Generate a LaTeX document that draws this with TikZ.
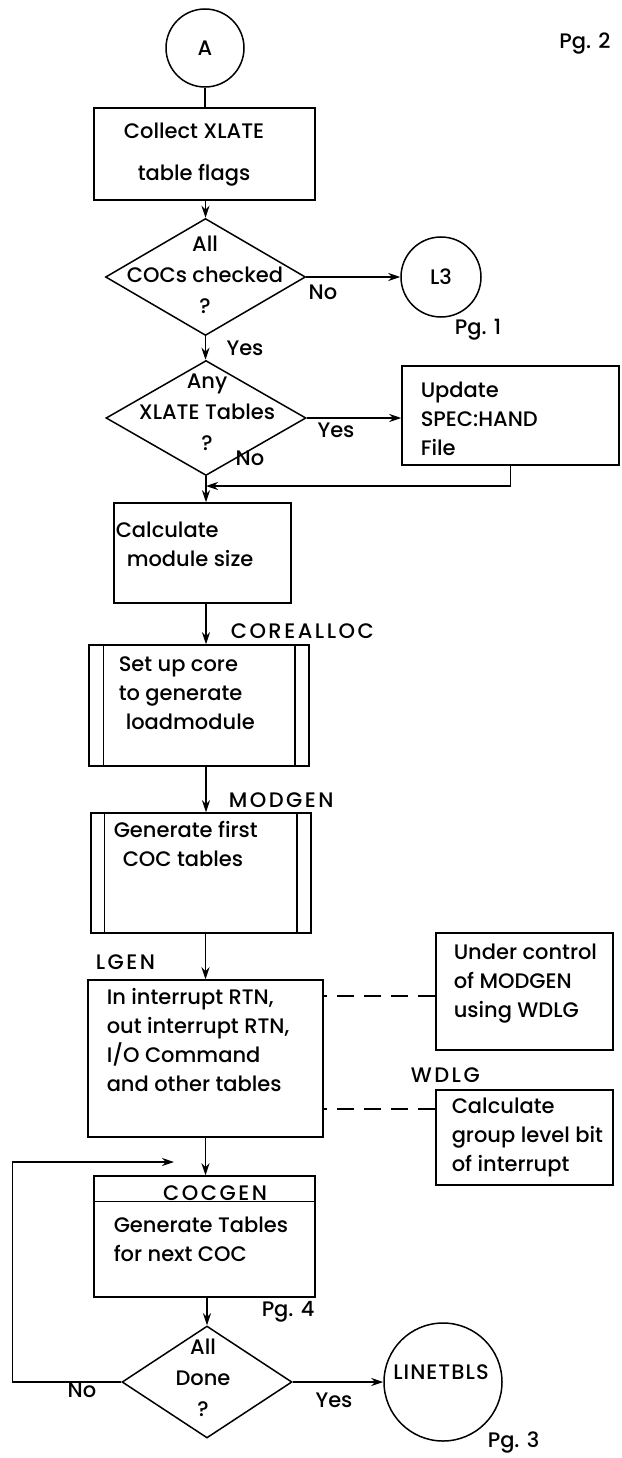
\documentclass[tikz,border=0pt]{standalone}
\usepackage{fontspec}
\setmainfont{Poppins}[UprightFont=* Medium]
\usetikzlibrary{shapes.geometric,arrows.meta}

\begin{document}
\begin{tikzpicture}[x=1pt,y=-1pt,line width=1.5pt,
  every node/.style={font=\fontsize{21}{29}\selectfont},
  box/.style={draw,rectangle,inner sep=0pt},
  dec/.style={draw,diamond,inner sep=0pt},
  conn/.style={-{Stealth[length=12pt,width=8pt]}},
  ctrl/.style={dash pattern=on 17pt off 10pt},
  txt/.style={inner sep=0pt,align=left,anchor=north west},
  ctxt/.style={inner sep=0pt,align=center,font=\fontsize{21}{31}\selectfont},
  caps/.style={inner sep=0pt,font=\fontsize{21}{29}\selectfont\addfontfeature{LetterSpace=12}}]

\useasboundingbox (0,0) rectangle (621,1458);

% top of page
\node[draw,circle,minimum size=78pt,inner sep=0pt] (a) at (205,48) {A};
\node (pg2) at (585,44) {Pg. 2};

\node[box,minimum width=221pt,minimum height=92pt] (collect) at (204.5,154) {};
\node[ctxt,font=\fontsize{21}{42}\selectfont] (collecttxt) at (194,155) {Collect XLATE\\table flags};

% all COCs checked ?
\node[dec,minimum width=200pt,minimum height=117pt] (d1) at (205.5,277) {};
\node[ctxt] (d1txt) at (205,275) {All\\COCs checked\\?};
\node[draw,circle,minimum size=80pt,inner sep=0pt] (l3) at (441,277) {L3};
\node (pg1) at (478,330) {Pg. 1};
\node (no1) at (323,292) {No};
\node (yes1) at (245,348) {Yes};

% any XLATE tables ?
\node[dec,minimum width=200pt,minimum height=115pt] (d2) at (206,418) {};
\node[ctxt] (d2txt) at (207,412) {Any\\XLATE Tables\\?};
\node (yes2) at (336,430) {Yes};
\node (no2) at (250,458) {No};
\node[box,minimum width=217pt,minimum height=99pt] (update) at (510.5,415.5) {};
\node[txt] (updatetxt) at (420,381) {Update\\SPEC:HAND\\File};
\coordinate (merge) at (206,486);

\node[box,minimum width=177pt,minimum height=100pt] (calc) at (202.5,553) {};
\node[txt] (calctxt) at (115,521) {Calculate\\\hspace*{11pt}module size};

% COREALLOC
\node[caps,anchor=west] (corealloc) at (230,631) {COREALLOC};
\node[box,minimum width=220pt,minimum height=121pt] (setup) at (199,705.5) {};
\draw ([xshift=15pt]setup.north west) -- ([xshift=15pt]setup.south west);
\draw ([xshift=-15pt]setup.north east) -- ([xshift=-15pt]setup.south east);
\node[txt] (setuptxt) at (118,656) {Set up core\\to generate\\\hspace*{7pt}loadmodule};

% MODGEN
\node[caps,anchor=west] (modgen) at (228,800) {MODGEN};
\node[box,minimum width=220pt,minimum height=120pt] (generate) at (201,873) {};
\draw ([xshift=14pt]generate.north west) -- ([xshift=14pt]generate.south west);
\draw ([xshift=-15pt]generate.north east) -- ([xshift=-15pt]generate.south east);
\node[txt] (generatetxt) at (113,821) {Generate first\\\hspace*{9pt}COC tables};

% LGEN
\node[caps,anchor=west] (lgenlbl) at (95,962) {LGEN};
\node[box,minimum width=235pt,minimum height=157pt] (lgen) at (205.5,1058.5) {};
\node[txt] (lgentxt) at (106,988) {In interrupt RTN,\\out interrupt RTN,\\I/O Command\\and other tables};

\node[box,minimum width=177pt,minimum height=117pt] (ctrlbox) at (524.5,991.5) {};
\node[txt] (ctrltxt) at (453,943) {Under control\\of MODGEN\\using WDLG};
\node[caps,anchor=west] (wdlg) at (410,1075) {WDLG};
\node[box,minimum width=177pt,minimum height=95pt] (grpbox) at (524.5,1137.5) {};
\node[txt] (grptxt) at (451,1097) {Calculate\\group level bit\\of interrupt};

\draw[ctrl] ([yshift=-4.5pt]ctrlbox.west) -- ([yshift=-4.5pt]ctrlbox.west -| lgen.east);
\draw[ctrl] ([yshift=28.5pt]grpbox.west) -- ([yshift=28.5pt]grpbox.west -| lgen.east);

% COCGEN
\node[box,minimum width=221pt,minimum height=121pt] (cocgen) at (204.5,1236.5) {};
\draw ([yshift=-26pt]cocgen.north west) -- ([yshift=-26pt]cocgen.north east);
\node[caps,anchor=base] (cocgenlbl) at (215,1200) {COCGEN};
\node[txt] (cocgentxt) at (113,1216) {Generate Tables\\for next COC};
\node[anchor=west,inner sep=0pt] (pg4) at (261,1312) {Pg. 4};

% all done ?
\node[dec,minimum width=170pt,minimum height=112pt] (d3) at (207,1382) {};
\node[ctxt] (d3txt) at (203,1378) {All\\Done\\?};
\node (no3) at (82,1390) {No};
\node (yes3) at (334,1400) {Yes};
\node[draw,circle,minimum size=118pt,inner sep=0pt] (linetbls) at (443,1382) {};
\node[caps,font=\fontsize{21}{29}\selectfont\addfontfeature{LetterSpace=5}] (linetxt) at (441,1372) {LINETBLS};
\node[anchor=west,inner sep=0pt] (pg3) at (487,1443) {Pg. 3};
\coordinate (loopend) at (174,1162);

% connectors
\draw (a.south) -- (a.south |- collect.north);
\draw[conn] (collect.south -| d1.north) -- (d1.north);
\draw[conn] (d1.east) -- (l3.west);
\draw[conn] (d1.south) -- (d1.south |- d2.north);
\draw[conn] (d2.east) -- (update.west |- d2.east);
\draw[conn] (update.south) |- (merge);
\draw[conn] (d2.south) -- (d2.south |- calc.north);
\draw[conn] (calc.south -| d2.south) -- (setup.north -| d2.south);
\draw[conn] (setup.south -| d2.south) -- (generate.north -| d2.south);
\draw[conn] (generate.south -| lgen.north) -- (lgen.north);
\draw[conn] (lgen.south) -- (lgen.south |- cocgen.north);
\draw[conn] (cocgen.south -| d3.north) -- (d3.north);
\draw[conn] (d3.east) -- (linetbls.west);
\draw[conn] (d3.west) -- ++(-109,0) |- (loopend);

\end{tikzpicture}
\end{document}
